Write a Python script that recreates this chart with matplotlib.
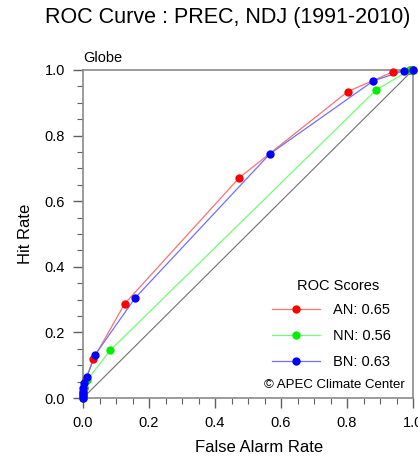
import matplotlib

matplotlib.use("Agg")
import matplotlib.pyplot as plt
from matplotlib.lines import Line2D
from matplotlib.ticker import MultipleLocator

plt.rcParams["font.family"] = ["Liberation Sans", "DejaVu Sans"]

# ROC points (false alarm rate, hit rate)
an_far = [0.0, 0.0, 0.001, 0.003, 0.008, 0.031, 0.126, 0.473, 0.802, 0.938, 0.99, 1.0]
an_hr = [0.0, 0.006, 0.016, 0.032, 0.055, 0.118, 0.287, 0.671, 0.934, 0.994, 1.0, 1.0]
nn_far = [0.0, 0.0, 0.001, 0.004, 0.013, 0.082, 0.888, 0.99, 1.0]
nn_hr = [0.0, 0.008, 0.02, 0.035, 0.055, 0.145, 0.939, 1.0, 1.0]
bn_far = [0.0, 0.0, 0.0, 0.001, 0.003, 0.011, 0.037, 0.158, 0.566, 0.880, 0.973, 1.0]
bn_hr = [0.0, 0.008, 0.018, 0.03, 0.045, 0.063, 0.132, 0.305, 0.744, 0.967, 0.998, 1.0]

names = ["AN", "NN", "BN"]
scores = [0.65, 0.56, 0.63]
marker_colors = ["#ff0000", "#00ee00", "#0000ff"]
line_colors = ["#ff7070", "#70ff70", "#7070ff"]

fig = plt.figure(figsize=(4.18, 4.57), dpi=100)
ax = fig.add_axes([83 / 418, 1 - 398 / 457, 330 / 418, 328 / 457])

# no-skill diagonal
ax.plot([0, 1], [0, 1], color="#707070", lw=0.8, zorder=1)

series = [(an_far, an_hr), (nn_far, nn_hr), (bn_far, bn_hr)]
for (x, y), mc, lc in zip(series, marker_colors, line_colors):
    ax.plot(x, y, "-", color=lc, lw=0.9, zorder=2)
    ax.plot(x, y, "o", color=mc, ms=6, mec="none", zorder=3, clip_on=False)

handles = [Line2D([0], [0], color=lc, lw=0.9, marker="o", mfc=mc, mec="none", ms=6)
           for mc, lc in zip(marker_colors, line_colors)]
labels = [f"{n}: {s:.2f}" for n, s in zip(names, scores)]
ax.legend(handles, labels, loc="upper left", bbox_to_anchor=(0.573, 0.29),
          frameon=False, fontsize=10.5, handlelength=3.3, handletextpad=0.9,
          labelspacing=0.84, borderpad=0, borderaxespad=0)
ax.text(0.773, 0.341, "ROC Scores", transform=ax.transAxes,
        ha="center", va="center", fontsize=10.5)
ax.text(0.975, 0.04, "\u00a9 APEC Climate Center", transform=ax.transAxes,
        ha="right", va="center", fontsize=9.5)

ax.set_xlim(0, 1)
ax.set_ylim(0, 1)
ax.xaxis.set_major_locator(MultipleLocator(0.2))
ax.yaxis.set_major_locator(MultipleLocator(0.2))
ax.xaxis.set_minor_locator(MultipleLocator(0.05))
ax.yaxis.set_minor_locator(MultipleLocator(0.05))
ax.xaxis.set_major_formatter(lambda v, p: f"{v:.1f}")
ax.yaxis.set_major_formatter(lambda v, p: f"{v:.1f}")
ax.tick_params(which="major", length=7, width=1, color="#606060", labelsize=10.5, pad=6)
ax.tick_params(which="minor", length=4, width=0.8, color="#606060")
ax.tick_params(top=False, right=False)
for s in ax.spines.values():
    s.set_color("#8a8a8a")
    s.set_linewidth(1.2)

ax.set_xlabel("False Alarm Rate", fontsize=12)
ax.xaxis.set_label_coords(0.533, -0.128)
ax.set_ylabel("Hit Rate", fontsize=12, labelpad=8)
ax.text(0.0, 1.015, "Globe", transform=ax.transAxes, ha="left", va="bottom", fontsize=10.5)
fig.text(228 / 418, 1 - 18 / 457, "ROC Curve : PREC, NDJ (1991-2010)",
         ha="center", va="center", fontsize=15.5)

fig.savefig("out.png", dpi=100)
